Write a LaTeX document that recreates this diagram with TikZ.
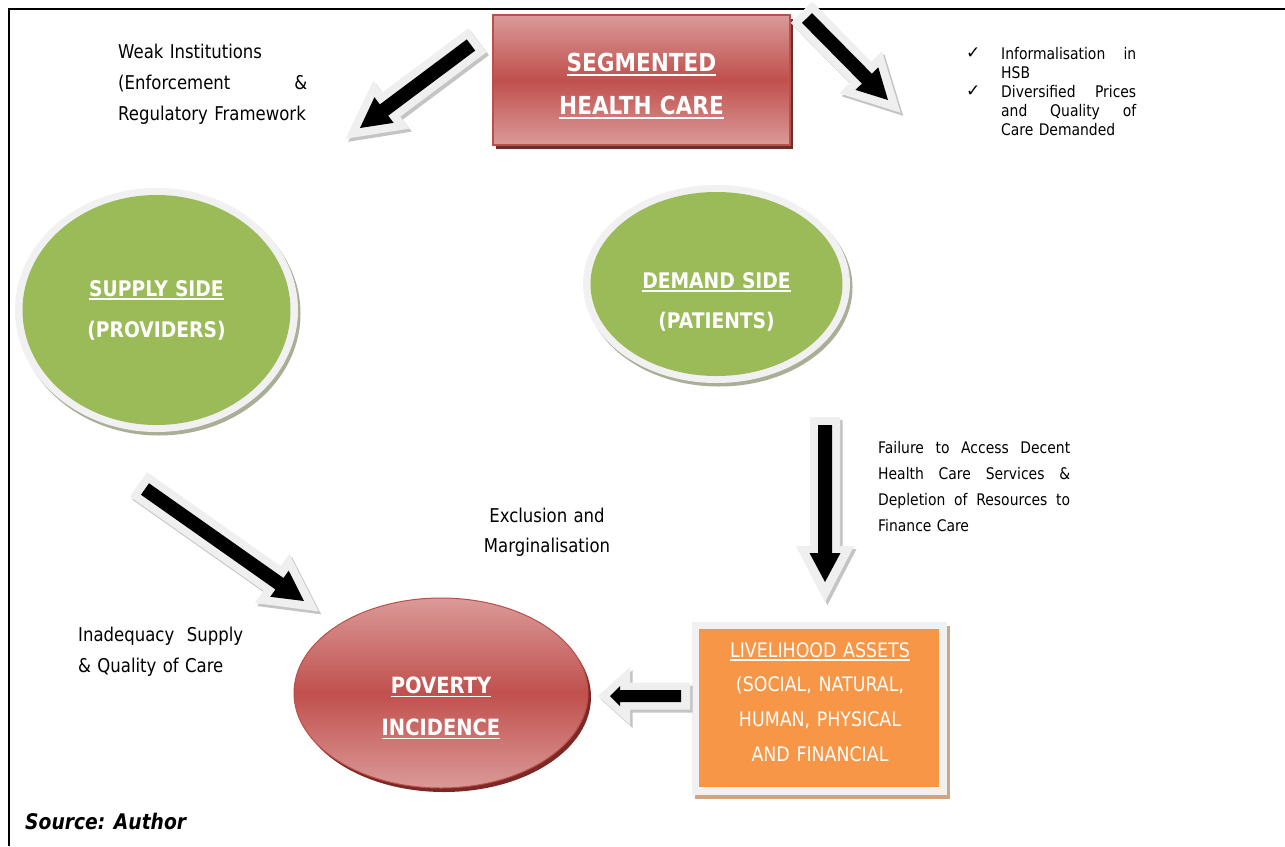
\documentclass[tikz,border=0pt]{standalone}
\usepackage{fontspec}
\setmainfont{DejaVu Sans}[FakeStretch=0.87]
\newfontfamily\checkfont{DejaVu Sans}
\usetikzlibrary{calc,shapes.geometric}

\definecolor{redmid}{HTML}{C0504D}
\definecolor{redlight}{HTML}{DA9A98}
\definecolor{redborder}{HTML}{B8504C}
\definecolor{segshadow}{HTML}{6E2C2A}
\definecolor{povshadow}{HTML}{7E2826}
\definecolor{greenfill}{HTML}{9BBB59}
\definecolor{ringcol}{HTML}{F1F1F1}
\definecolor{greenshadow}{HTML}{A9AE96}
\definecolor{orangefill}{HTML}{F79646}
\definecolor{tanshadow}{HTML}{CFA584}
\definecolor{arrout}{HTML}{EFEFEF}
\definecolor{arrshadow}{HTML}{C4C4C4}

\newlength\ulwidth
\newcommand\myul[1]{\leavevmode\settowidth{\ulwidth}{#1}\rlap{\rule[-0.2em]{\ulwidth}{0.085em}}#1}
\newcommand\chk{\makebox[35pt][l]{\checkfont\fontsize{17}{19}\selectfont\raisebox{0.5pt}{✓}}}

% block arrow polygon: tail, tip, shaft half width, head half width, head length, style
\newcommand\blockarrow[6]{%
  \coordinate (ba-h) at ($(#2)!#5!(#1)$);
  \path[#6] ($(#1)!#3!90:(#2)$) -- ($(ba-h)!#3!90:(#2)$) -- ($(ba-h)!#4!90:(#2)$) -- (#2)
    -- ($(ba-h)!#4!-90:(#2)$) -- ($(ba-h)!#3!-90:(#2)$) -- ($(#1)!#3!-90:(#2)$) -- cycle;}
% 3D arrow: name (name-t, name-p exist), black sw hw hl, outline sw hw hl, tail ext, tip ext
\newcommand\threedarrow[9]{%
  \coordinate (#1-ot) at ($(#1-t)!-#8!(#1-p)$);
  \coordinate (#1-op) at ($(#1-p)!-#9!(#1-t)$);
  \coordinate (#1-st) at ($(#1-ot)+(2.5,3)$);
  \coordinate (#1-sp) at ($(#1-op)+(2.5,3)$);
  \blockarrow{#1-st}{#1-sp}{#5}{#6}{#7}{fill=arrshadow}
  \blockarrow{#1-ot}{#1-op}{#5}{#6}{#7}{fill=arrout}
  \blockarrow{#1-t}{#1-p}{#2}{#3}{#4}{fill=black}}

\begin{document}
\begin{tikzpicture}[x=1pt,y=-1pt,
  lbl/.style={text=white, align=center, text width=280pt, inner sep=0pt, anchor=base},
  note/.style={text=black, align=left, inner sep=0pt, anchor=base west},
  shp/.style={inner sep=0pt, outer sep=0pt}]
\useasboundingbox (0,0) rectangle (1285,846);
\fill[white] (0,0) rectangle (1285,846);

% frame
\draw[line width=2.6pt] (9,846) -- (9,9) -- (1285,9);

% ---- Segmented health care box
\node[shp, rectangle, fill=segshadow, minimum width=297pt, minimum height=130pt] (segsh) at (644.5,84) {};
\node[shp, rectangle, draw=redborder, line width=1.2pt, top color=redlight, bottom color=redlight, middle color=redmid,
      minimum width=297pt, minimum height=130pt] (seg) at (641.5,80) {};
\node[lbl, font=\fontsize{24.8}{43}\selectfont\bfseries] (segt) at (641.5,71) {\myul{SEGMENTED}\\\myul{HEALTH CARE}};

% ---- Supply side
\node[shp, ellipse, fill=greenshadow, minimum width=283pt, minimum height=244pt] (supplysh) at (159,313.5) {};
\node[shp, ellipse, fill=ringcol, minimum width=283pt, minimum height=244pt] (supplyring) at (156.5,310) {};
\node[shp, ellipse, fill=greenfill, minimum width=268pt, minimum height=230pt] (supply) at (156.5,310) {};
\node[lbl, font=\fontsize{21.5}{41}\selectfont\bfseries] (supplyt) at (156.5,296) {\myul{SUPPLY SIDE}\\(PROVIDERS)};

% ---- Demand side
\node[shp, ellipse, fill=greenshadow, minimum width=267pt, minimum height=198pt] (demandsh) at (719,287.5) {};
\node[shp, ellipse, fill=ringcol, minimum width=267pt, minimum height=198pt] (demandring) at (716.5,284) {};
\node[shp, ellipse, fill=greenfill, minimum width=252pt, minimum height=184pt] (demand) at (716.5,284) {};
\node[lbl, font=\fontsize{21.5}{40}\selectfont\bfseries] (demandt) at (716.5,288) {\myul{DEMAND SIDE}\\(PATIENTS)};

% ---- Poverty incidence
\node[shp, ellipse, fill=povshadow, minimum width=294pt, minimum height=190pt] (povsh) at (444,697) {};
\node[shp, ellipse, draw=redborder, line width=1pt, top color=redlight, bottom color=redlight, middle color=redmid,
      minimum width=294pt, minimum height=190pt] (pov) at (441,693) {};
\node[lbl, font=\fontsize{22.4}{42}\selectfont\bfseries] (povt) at (441,693) {\myul{POVERTY}\\\myul{INCIDENCE}};

% ---- Livelihood assets
\node[shp, rectangle, fill=tanshadow, minimum width=255pt, minimum height=173pt] (livsh) at (822.5,712.5) {};
\node[shp, rectangle, fill=ringcol, minimum width=255pt, minimum height=173pt] (livframe) at (819.5,708.5) {};
\node[shp, rectangle, fill=orangefill, minimum width=240pt, minimum height=158pt] (liv) at (819,708) {};
\node[lbl, font=\fontsize{20}{34.7}\selectfont] (livt) at (820,657) {\myul{LIVELIHOOD ASSETS}\\(SOCIAL, NATURAL,\\HUMAN, PHYSICAL\\AND FINANCIAL};

% ---- block arrows
\coordinate (a1-t) at (471,45);  \coordinate (a1-p) at (360,128);
\coordinate (a2-t) at (807,18);  \coordinate (a2-p) at (888,100);
\coordinate (a3-t) at (825,425); \coordinate (a3-p) at (825,582);
\coordinate (a4-t) at (145,489); \coordinate (a4-p) at (304,601);
\coordinate (a5-t) at (681,696); \coordinate (a5-p) at (610,696);
\threedarrow{a1}{7pt}{16pt}{30pt}{15pt}{30pt}{57pt}{8pt}{18pt}
\threedarrow{a2}{7pt}{16pt}{30pt}{15pt}{30pt}{57pt}{8pt}{18pt}
\threedarrow{a3}{7pt}{15.5pt}{29pt}{15pt}{29pt}{56pt}{8pt}{20pt}
\threedarrow{a4}{7pt}{16pt}{30pt}{15pt}{30pt}{57pt}{8pt}{18pt}
\threedarrow{a5}{6pt}{10pt}{10pt}{13.5pt}{29pt}{32pt}{9pt}{12pt}

% ---- annotations
\node[note, text width=200pt, font=\fontsize{19}{31}\selectfont] (weak) at (118,58)
  {Weak Institutions\\\makebox[189pt][l]{(Enforcement\hfill\&}\\Regulatory Framework};

\node[note, text width=185pt, font=\fontsize{16}{19}\selectfont] (checks) at (966,59)
  {\chk\makebox[135pt][l]{Informalisation\hfill in}\\
   \hspace*{35pt}HSB\\
   \chk\makebox[135pt][l]{Diversified\hfill Prices}\\
   \hspace*{35pt}\makebox[135pt][l]{and\hfill Quality\hfill of}\\
   \hspace*{35pt}Care Demanded};

\node[note, text width=205pt, font=\fontsize{16}{26}\selectfont] (failure) at (878,453)
  {\makebox[192pt][l]{Failure\hfill to\hfill Access\hfill Decent}\\
   \makebox[192pt][l]{Health\hfill Care\hfill Services\hfill \&}\\
   \makebox[192pt][l]{Depletion\hfill of\hfill Resources\hfill to}\\
   Finance Care};

\node[text=black, align=center, text width=200pt, inner sep=0pt, anchor=base, font=\fontsize{19}{30}\selectfont] (excl) at (547,522)
  {Exclusion and\\Marginalisation};

\node[note, text width=180pt, font=\fontsize{19}{31}\selectfont] (inad) at (78,641)
  {\makebox[165pt][l]{Inadequacy\hfill Supply}\\\& Quality of Care};

\node[note, font=\fontsize{21.5}{25}\selectfont\bfseries\itshape] (source) at (25,829) {Source: Author};
\end{tikzpicture}
\end{document}
